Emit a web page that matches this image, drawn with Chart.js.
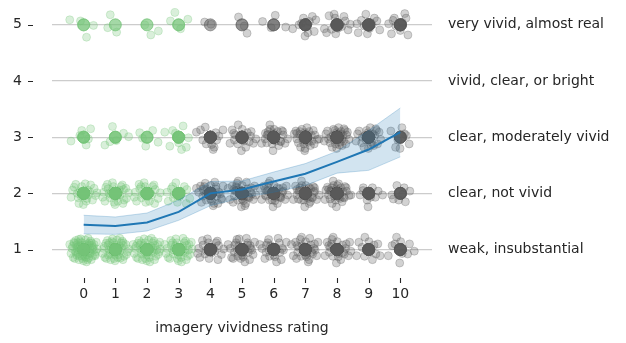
<!DOCTYPE html>
<html>
<head>
<meta charset="utf-8">
<script src="https://cdn.jsdelivr.net/npm/chart.js@4/dist/chart.umd.min.js"></script>
<style>
  html, body { margin: 0; padding: 0; background: #fff; }
  #wrap { width: 626px; height: 343px; }
</style>
</head>
<body>
<div id="wrap"><canvas id="vividChart" width="626" height="343"></canvas></div>
<script>
// data
const vividnessRatings = [0, 1, 2, 3, 4, 5, 6, 7, 8, 9, 10];
const ratingLevels = [1, 2, 3, 4, 5];
const ratingLabels = ['weak, insubstantial', 'clear, not vivid', 'clear, moderately vivid',
                      'vivid, clear, or bright', 'very vivid, almost real'];

// number of responses per vividness rating (0..10) at each level
const countsLevel1 = [70, 45, 45, 38, 20, 30, 22, 28, 25, 12, 10];
const countsLevel2 = [22, 28, 22, 15, 30, 35, 32, 32, 32, 12, 8];
const countsLevel3 = [6, 6, 5, 9, 14, 18, 25, 28, 30, 22, 8];
const countsLevel4 = [0, 0, 0, 0, 0, 0, 0, 0, 0, 0, 0];
const countsLevel5 = [4, 3, 3, 4, 2, 3, 4, 10, 14, 12, 10];

// fitted line and its band
const fitLine  = [1.44, 1.42, 1.48, 1.67, 2.00, 2.07, 2.21, 2.35, 2.56, 2.78, 3.09];
const fitUpper = [1.61, 1.58, 1.65, 1.88, 2.21, 2.22, 2.38, 2.53, 2.75, 3.12, 3.52];
const fitLower = [1.28, 1.27, 1.33, 1.52, 1.78, 1.92, 2.02, 2.14, 2.36, 2.41, 2.65];

// hand-placed jitter offsets (x units, y units) for the spread-out dots
const jitterOffsets = [
  [0.02,0.01],[-0.18,0.05],[0.21,-0.07],[-0.05,-0.12],[0.12,0.10],[-0.27,-0.03],[0.30,0.04],[0.07,-0.02],[-0.11,0.14],[0.16,-0.15],
  [-0.22,-0.10],[0.25,0.12],[-0.02,0.08],[0.10,-0.09],[-0.35,0.06],[0.38,-0.04],[-0.08,-0.05],[0.05,0.17],[-0.15,-0.18],[0.19,0.03],
  [-0.30,0.11],[0.28,-0.12],[-0.01,-0.20],[0.13,0.06],[-0.20,0.00],[0.33,0.09],[-0.12,0.03],[0.08,-0.14],[-0.40,-0.07],[0.22,0.15],
  [-0.06,0.12],[0.15,-0.03],[-0.25,0.16],[0.42,0.01],[-0.17,-0.08],[0.03,-0.06],[-0.33,-0.14],[0.26,0.07],[-0.09,0.19],[0.11,0.00],
  [-0.04,-0.16],[0.35,-0.09],[-0.23,0.08],[0.18,0.12],[-0.14,-0.02],[0.06,0.04],[-0.37,0.02],[0.24,-0.18],[-0.19,0.12],[0.00,-0.10],
  [0.14,0.20],[-0.28,-0.16],[0.31,-0.01],[-0.10,0.07],[0.09,-0.22],[-0.44,0.09],[0.20,-0.05],[-0.03,0.02],[0.40,0.13],[-0.16,0.18],
  [0.04,-0.13],[-0.24,-0.05],[0.27,0.02],[-0.13,-0.12],[0.17,0.08],[-0.31,0.13],[0.12,-0.18],[-0.07,0.00],[0.36,-0.11],[-0.21,0.04],
  [0.01,0.14],[-0.38,-0.11],[0.23,-0.08],[-0.12,0.22],[0.29,0.10],[-0.26,0.07],[0.06,-0.07],[-0.02,-0.24],[0.44,-0.03],[-0.17,0.10]
];

const countsByLevel = [countsLevel1, countsLevel2, countsLevel3, countsLevel4, countsLevel5];

const jitterGreen = [], jitterGray = [], exactGreen = [], exactGray = [];
ratingLevels.forEach(function (level, li) {
  vividnessRatings.forEach(function (r, ri) {
    const n = countsByLevel[li][ri];
    const start = (ri * 7 + li * 13) % jitterOffsets.length;
    for (let k = 0; k < n; k++) {
      const off = jitterOffsets[(start + k) % jitterOffsets.length];
      const p = { x: r + off[0], y: level + off[1] };
      const e = { x: r, y: level };
      if (r < 4) { jitterGreen.push(p); exactGreen.push(e); }
      else { jitterGray.push(p); exactGray.push(e); }
    }
  });
});

const toXY = arr => arr.map((v, i) => ({ x: vividnessRatings[i], y: v }));

const GREEN = 'rgba(116, 196, 118, 0.3)';
const GRAY = 'rgba(88, 88, 88, 0.3)';
const GREEN_JIT = 'rgba(116, 196, 118, 0.27)';
const GRAY_JIT = 'rgba(88, 88, 88, 0.27)';
const BLUE = '#1f77b4';
const TEXT = '#262626';

Chart.defaults.font.family = "'DejaVu Sans', sans-serif";
Chart.defaults.font.size = 14;
Chart.defaults.color = TEXT;

// small outward tick marks, offset from the plot like a despined axis
const tickMarks = {
  id: 'tickMarks',
  afterDraw(chart) {
    const { ctx, chartArea, scales } = chart;
    ctx.save();
    ctx.strokeStyle = TEXT;
    ctx.lineWidth = 1.1;
    ctx.beginPath();
    ratingLevels.forEach(v => {
      const py = Math.round(scales.y.getPixelForValue(v)) + 0.5;
      ctx.moveTo(chartArea.left - 24, py);
      ctx.lineTo(chartArea.left - 19, py);
    });
    vividnessRatings.forEach(v => {
      const px = Math.round(scales.x.getPixelForValue(v)) + 0.5;
      ctx.moveTo(px, chartArea.bottom + 6);
      ctx.lineTo(px, chartArea.bottom + 11);
    });
    ctx.stroke();
    ctx.restore();
  }
};

// fixed axis sizes so the plot box sits where the reference has it
const fixVertical = w => s => { s.width = w; s.paddingTop = 0; s.paddingBottom = 0; };

new Chart(document.getElementById('vividChart'), {
  type: 'scatter',
  data: {
    datasets: [
      {
        type: 'line', data: toXY(fitLine), borderColor: BLUE, borderWidth: 2,
        pointRadius: 0, tension: 0, fill: false, order: 0
      },
      {
        type: 'line', data: toXY(fitUpper), borderColor: 'rgba(31,119,180,0.25)', borderWidth: 1,
        backgroundColor: 'rgba(31,119,180,0.2)', pointRadius: 0, tension: 0, fill: '+1', order: 1
      },
      {
        type: 'line', data: toXY(fitLower), borderColor: 'rgba(31,119,180,0.25)', borderWidth: 1,
        pointRadius: 0, tension: 0, fill: false, order: 1
      },
      { data: exactGreen, backgroundColor: GREEN, borderColor: GREEN, borderWidth: 1, pointRadius: 6, order: 2 },
      { data: exactGray, backgroundColor: GRAY, borderColor: GRAY, borderWidth: 1, pointRadius: 6, order: 2 },
      { data: jitterGreen, backgroundColor: GREEN_JIT, borderColor: GREEN_JIT, borderWidth: 1, pointRadius: 4, order: 3 },
      { data: jitterGray, backgroundColor: GRAY_JIT, borderColor: GRAY_JIT, borderWidth: 1, pointRadius: 4, order: 3 }
    ]
  },
  options: {
    responsive: false,
    animation: false,
    layout: { padding: { top: 8, bottom: 0 } },
    plugins: { legend: { display: false }, tooltip: { enabled: false } },
    scales: {
      x: {
        type: 'linear', min: -1, max: 11,
        afterBuildTicks: s => { s.ticks = vividnessRatings.map(v => ({ value: v })); },
        afterFit: s => { s.height = 71; s.paddingLeft = 0; s.paddingRight = 0; },
        grid: { display: false, drawTicks: false },
        border: { display: false },
        ticks: { padding: 14, maxRotation: 0 },
        title: { display: true, text: 'imagery vividness rating', padding: { top: 0, bottom: 6 } }
      },
      y: {
        type: 'linear', min: 0.6, max: 5.3,
        afterBuildTicks: s => { s.ticks = ratingLevels.map(v => ({ value: v })); },
        afterFit: fixVertical(52),
        grid: { color: '#cccccc', lineWidth: 1.2, drawTicks: false },
        border: { display: false },
        ticks: { padding: 30 }
      },
      y2: {
        type: 'linear', position: 'right', min: 0.6, max: 5.3,
        afterBuildTicks: s => { s.ticks = ratingLevels.map(v => ({ value: v })); },
        afterFit: fixVertical(194),
        grid: { drawOnChartArea: false, drawTicks: false },
        border: { display: false },
        ticks: { padding: 16, callback: v => ratingLabels[ratingLevels.indexOf(v)] }
      }
    }
  },
  plugins: [tickMarks]
});
</script>
</body>
</html>
